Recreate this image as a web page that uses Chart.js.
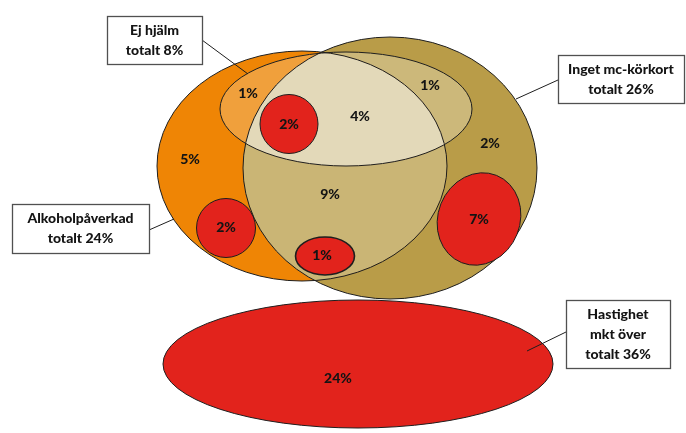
<!DOCTYPE html>
<html lang="sv">
<head>
<meta charset="utf-8">
<title>Överlappande riskfaktorer</title>
<script src="https://cdn.jsdelivr.net/npm/chart.js@4.4.1/dist/chart.umd.min.js"></script>
<style>
  html, body { margin: 0; padding: 0; background: #ffffff; }
  #wrap { position: relative; width: 686px; height: 433px; }
</style>
</head>
<body>
<div id="wrap"><canvas id="venn"></canvas></div>
<script>
// Risk groups and their totals (percent of cases)
const setNames  = ['Ej hjälm', 'Inget mc-körkort', 'Alkoholpåverkad', 'Hastighet mkt över'];
const setTotals = [8, 26, 24, 36];

// Share of cases in each region of the diagram (percent)
const regionKeys   = ['hjalmAlko', 'hjalmAlkoFart', 'hjalmAlkoKort', 'hjalmKort', 'kort', 'alko', 'alkoKort', 'alkoFart', 'alkoKortFart', 'kortFart', 'fart'];
const regionShares = [1, 2, 4, 1, 2, 5, 9, 2, 1, 7, 24];

// ---- drawing layout (diagram units, 1 unit = 1 px of the 686x433 canvas) ----
const layout = {
  kort:  { cx: 390, cy: 168, rx: 147, ry: 131 },
  alko:  { cx: 302, cy: 166, rx: 145, ry: 115 },
  hjalm: { cx: 346, cy: 109, rx: 126, ry: 57 },
  // speed sub-groups, one per region that involves "Hastighet"
  fartShapes: {
    hjalmAlkoFart: { cx: 289, cy: 124, rx: 29,  ry: 29.5, rot: 0 },
    alkoFart:      { cx: 226, cy: 228, rx: 29.5, ry: 29.5, rot: 0 },
    alkoKortFart:  { cx: 325, cy: 256, rx: 29.5, ry: 19, rot: 0 },
    kortFart:      { cx: 479, cy: 219, rx: 41,  ry: 47, rot: 0.38 },
    fart:          { cx: 358, cy: 364, rx: 195, ry: 64, rot: 0 }
  },
  labelPos: {
    hjalmAlko: [248, 93], hjalmAlkoFart: [289, 124], hjalmAlkoKort: [360, 116],
    hjalmKort: [430, 85], kort: [490, 143], alko: [190, 159], alkoKort: [330, 194],
    alkoFart: [226, 227], alkoKortFart: [322, 255], kortFart: [479, 219], fart: [338, 378]
  },
  callouts: [
    { set: 0, box: [107, 16, 95, 48],  from: [202, 40],  to: [248, 74] },
    { set: 1, box: [558, 55, 126, 48], from: [558, 80],  to: [516, 99] },
    { set: 2, box: [12, 204, 137, 49], from: [149, 230], to: [174, 219] },
    { set: 3, box: [566, 300, 104, 68], from: [566, 332], to: [527, 351] }
  ]
};

const colors = {
  kort: '#b99c48',
  alko: '#ef8505',
  alkoKort: '#cab575',
  hjalmKort: '#ccb87a',
  hjalmAlko: '#f0a03c',
  hjalmAll: '#e3d9b9',
  fart: '#e2231c',
  line: '#1e1e1e',
  text: '#141414'
};

const calloutText = [
  [setNames[0], 'totalt ' + setTotals[0] + '%'],
  [setNames[1], 'totalt ' + setTotals[1] + '%'],
  [setNames[2], 'totalt ' + setTotals[2] + '%'],
  ['Hastighet', 'mkt över', 'totalt ' + setTotals[3] + '%']
];

const FONT = '900 14px Lato, "Open Sans", sans-serif';

// ellipse path in pixel space, converted through the chart scales
function ellipsePath(ctx, chart, e) {
  const xs = chart.scales.x, ys = chart.scales.y;
  const px = xs.getPixelForValue(e.cx), py = ys.getPixelForValue(e.cy);
  const rx = Math.abs(xs.getPixelForValue(e.cx + e.rx) - px);
  const ry = Math.abs(ys.getPixelForValue(e.cy + e.ry) - py);
  ctx.beginPath();
  ctx.ellipse(px, py, rx, ry, e.rot || 0, 0, Math.PI * 2);
}
function fillE(ctx, chart, e, color) { ellipsePath(ctx, chart, e); ctx.fillStyle = color; ctx.fill(); }
function strokeE(ctx, chart, e, w) { ellipsePath(ctx, chart, e); ctx.lineWidth = w; ctx.strokeStyle = colors.line; ctx.stroke(); }
function clipE(ctx, chart, e) { ellipsePath(ctx, chart, e); ctx.clip(); }

const vennPlugin = {
  id: 'venn',
  beforeDatasetsDraw(chart) {
    const ctx = chart.ctx;
    const K = layout.kort, A = layout.alko, H = layout.hjalm;
    ctx.save();
    fillE(ctx, chart, K, colors.kort);
    fillE(ctx, chart, A, colors.alko);
    // Alkohol ∩ körkort
    ctx.save(); clipE(ctx, chart, K); fillE(ctx, chart, A, colors.alkoKort); ctx.restore();
    // Ej hjälm and its overlaps
    fillE(ctx, chart, H, colors.hjalmKort);
    ctx.save(); clipE(ctx, chart, A); fillE(ctx, chart, H, colors.hjalmAlko); ctx.restore();
    ctx.save(); clipE(ctx, chart, A); clipE(ctx, chart, K); fillE(ctx, chart, H, colors.hjalmAll); ctx.restore();
    strokeE(ctx, chart, K, 1);
    strokeE(ctx, chart, A, 1);
    strokeE(ctx, chart, H, 1);
    // speed groups
    regionKeys.forEach(k => {
      const s = layout.fartShapes[k];
      if (!s) return;
      fillE(ctx, chart, s, colors.fart);
      strokeE(ctx, chart, s, k === 'alkoKortFart' ? 1.6 : 1);
    });

    // callouts
    const xs = chart.scales.x, ys = chart.scales.y;
    ctx.font = FONT;
    ctx.textAlign = 'center';
    ctx.textBaseline = 'middle';
    layout.callouts.forEach(c => {
      ctx.beginPath();
      ctx.moveTo(xs.getPixelForValue(c.from[0]), ys.getPixelForValue(c.from[1]));
      ctx.lineTo(xs.getPixelForValue(c.to[0]), ys.getPixelForValue(c.to[1]));
      ctx.lineWidth = 1; ctx.strokeStyle = colors.line; ctx.stroke();
      const x0 = xs.getPixelForValue(c.box[0]), y0 = ys.getPixelForValue(c.box[1]);
      const w = xs.getPixelForValue(c.box[0] + c.box[2]) - x0;
      const h = ys.getPixelForValue(c.box[1] + c.box[3]) - y0;
      ctx.fillStyle = '#ffffff';
      ctx.fillRect(x0, y0, w, h);
      ctx.lineWidth = 1.3; ctx.strokeStyle = '#505050';
      ctx.strokeRect(Math.round(x0) + 0.5, Math.round(y0) + 0.5, Math.round(w), Math.round(h));
      const lines = calloutText[c.set];
      const lh = 20;
      const top = y0 + h / 2 - (lines.length - 1) * lh / 2;
      ctx.fillStyle = colors.text;
      lines.forEach((t, i) => ctx.fillText(t, x0 + w / 2, top + i * lh));
    });
    ctx.restore();
  },
  afterDatasetsDraw(chart) {
    const ctx = chart.ctx;
    const meta = chart.getDatasetMeta(0);
    ctx.save();
    ctx.font = FONT;
    ctx.textAlign = 'center';
    ctx.textBaseline = 'middle';
    ctx.fillStyle = colors.text;
    meta.data.forEach((pt, i) => ctx.fillText(regionShares[i] + '%', pt.x, pt.y));
    ctx.restore();
  }
};

new Chart(document.getElementById('venn'), {
  type: 'scatter',
  data: {
    datasets: [{
      label: 'Andel',
      data: regionKeys.map((k, i) => ({ x: layout.labelPos[k][0], y: layout.labelPos[k][1], v: regionShares[i] })),
      pointRadius: 0,
      pointHoverRadius: 0
    }]
  },
  options: {
    responsive: true,
    maintainAspectRatio: false,
    animation: false,
    layout: { padding: 0 },
    scales: {
      x: { type: 'linear', min: 0, max: 686, display: false },
      y: { type: 'linear', min: 0, max: 433, reverse: true, display: false }
    },
    plugins: { legend: { display: false }, tooltip: { enabled: false } }
  },
  plugins: [vennPlugin]
});
</script>
</body>
</html>
